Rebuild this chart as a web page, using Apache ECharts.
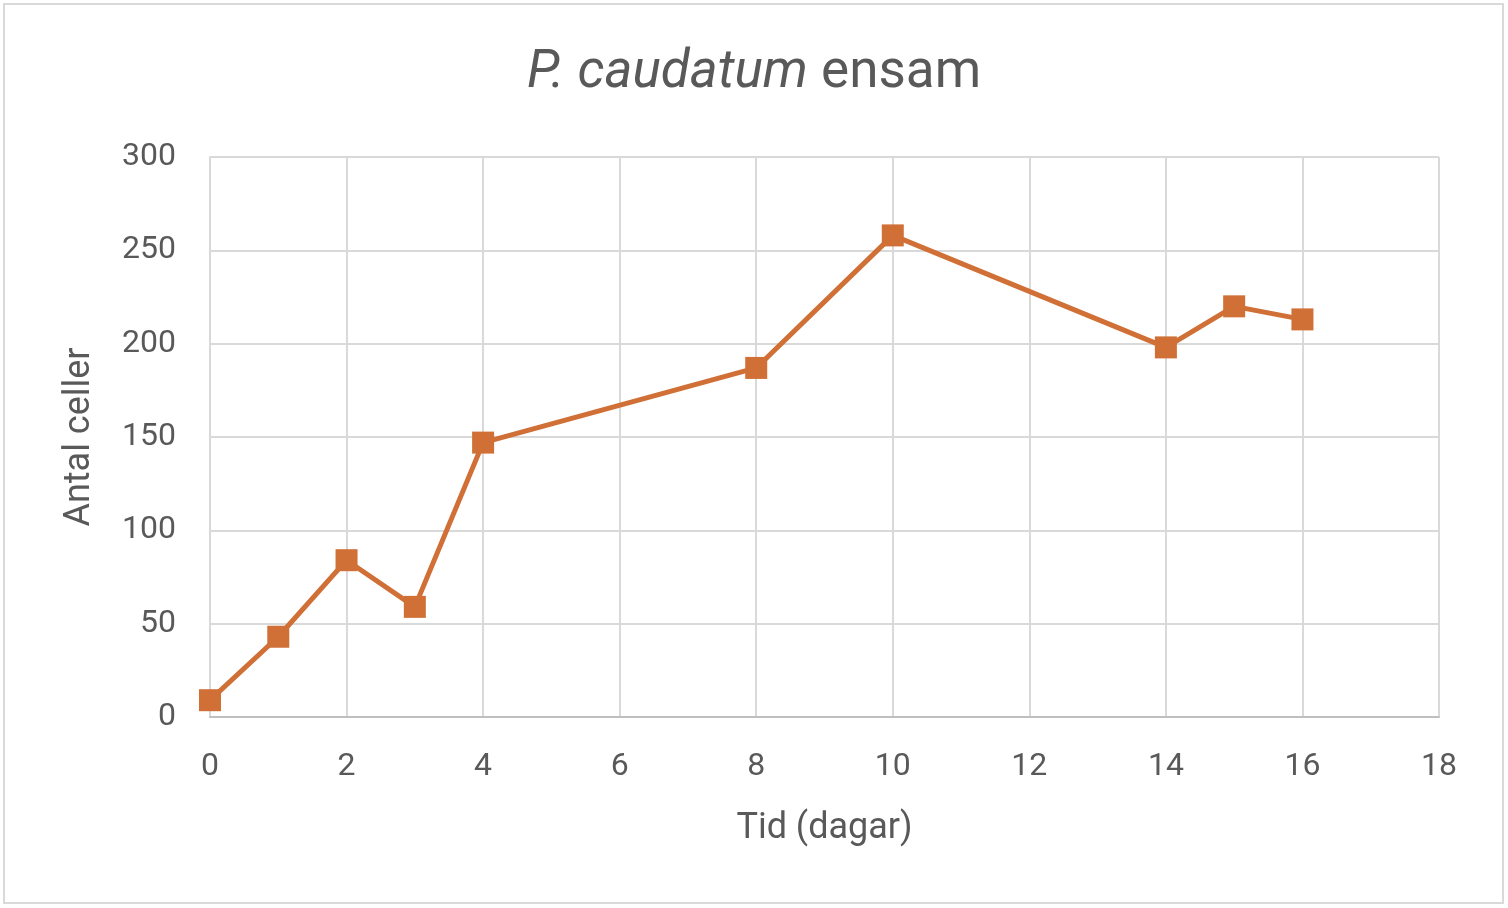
<!DOCTYPE html>
<html>
<head>
<meta charset="utf-8">
<title>P. caudatum ensam</title>
<script src="https://cdn.jsdelivr.net/npm/echarts@6/dist/echarts.min.js"></script>
<style>
  html, body { margin: 0; padding: 0; background: #fff; }
  #main { width: 1508px; height: 908px; }
</style>
</head>
<body>
<div id="main"></div>
<script>
// data
var days = [0, 1, 2, 3, 4, 8, 10, 14, 15, 16];
var cells = [9, 43, 84, 59, 147, 187, 258, 198, 220, 213];
var xTicks = { min: 0, max: 18, step: 2 };
var yTicks = { min: 0, max: 300, step: 50 };

var points = days.map(function (d, i) { return [d, cells[i]]; });

var txt = '#595959';
var font = 'Roboto, "Noto Sans", sans-serif';

var chart = echarts.init(document.getElementById('main'));
chart.setOption({
  animation: false,
  backgroundColor: '#fff',
  title: {
    text: '{i|P. caudatum} ensam',
    left: 'center',
    top: 42,
    textStyle: {
      fontFamily: font, fontSize: 53, fontWeight: 'normal', color: txt,
      rich: { i: { fontFamily: font, fontSize: 53, fontStyle: 'italic', color: txt } }
    }
  },
  graphic: [{
    type: 'rect',
    shape: { x: 4, y: 4, width: 1499, height: 899 },
    style: { fill: 'none', stroke: '#d9d9d9', lineWidth: 2 },
    silent: true
  }],
  grid: { left: 210, right: 69, top: 157, bottom: 191, containLabel: false },
  xAxis: {
    type: 'value',
    min: xTicks.min, max: xTicks.max, interval: xTicks.step,
    name: 'Tid (dagar)',
    nameLocation: 'middle',
    nameGap: 94,
    nameTextStyle: { fontFamily: font, fontSize: 36, color: txt },
    axisLine: { show: true, lineStyle: { color: '#bfbfbf', width: 2 } },
    axisTick: { show: false },
    splitLine: { show: true, lineStyle: { color: '#d9d9d9', width: 2 } },
    axisLabel: { fontFamily: font, fontSize: 32, color: txt, margin: 34 }
  },
  yAxis: {
    type: 'value',
    min: yTicks.min, max: yTicks.max, interval: yTicks.step,
    name: 'Antal celler',
    nameLocation: 'middle',
    nameGap: 112,
    nameTextStyle: { fontFamily: font, fontSize: 36, color: txt },
    axisLine: { show: true, lineStyle: { color: '#d9d9d9', width: 2 } },
    axisTick: { show: false },
    splitLine: { show: true, lineStyle: { color: '#d9d9d9', width: 2 } },
    axisLabel: { fontFamily: font, fontSize: 32, color: txt, margin: 34 }
  },
  series: [{
    type: 'line',
    data: points,
    symbol: 'rect',
    symbolSize: 22,
    lineStyle: { color: '#d07036', width: 5 },
    itemStyle: { color: '#d07036' }
  }]
});
</script>
</body>
</html>
